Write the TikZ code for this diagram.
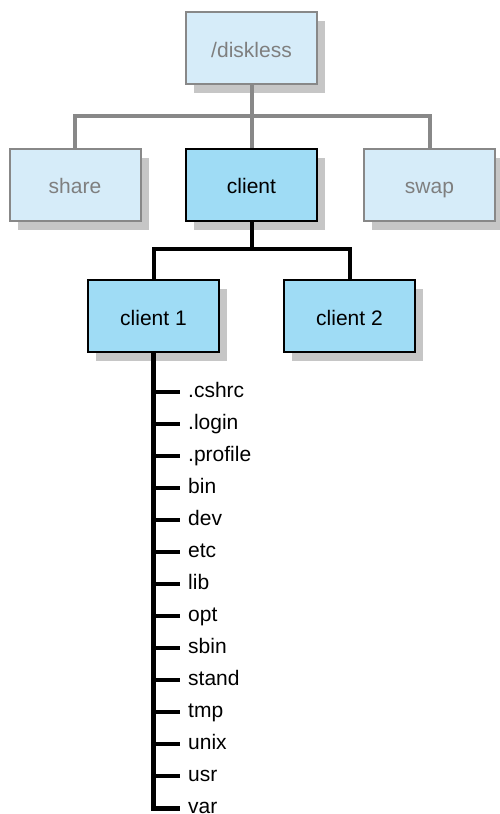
\documentclass[tikz,border=0pt]{standalone}
\usepackage{fontspec}
\setmainfont{Liberation Sans}
\usepackage{tikz}
\usetikzlibrary{positioning,shadows}
\definecolor{palebox}{HTML}{D6ECF9}
\definecolor{clientbox}{HTML}{9FDCF5}
\definecolor{rimgray}{HTML}{888888}
\definecolor{textgray}{HTML}{7F7F7F}
\definecolor{shadegray}{HTML}{C6C6C6}
\tikzset{
  dirbox/.style={rectangle, minimum width=131pt, minimum height=72pt, inner sep=0pt,
    line width=2pt, font=\fontsize{21}{24}\selectfont, text height=18pt, text depth=0pt,
    drop shadow={shadow xshift=8pt, shadow yshift=-9pt, opacity=1, fill=shadegray}},
  dimbox/.style={dirbox, draw=rimgray, fill=palebox, text=textgray},
  livebox/.style={dirbox, draw=black, fill=clientbox, text=black},
  fileitem/.style={anchor=west, inner sep=0pt, text height=15pt, text depth=4pt,
    font=\fontsize{21}{24}\selectfont}
}

\begin{document}
\begin{tikzpicture}[x=1pt, y=-1pt]
\useasboundingbox (0,0) rectangle (500,814);
% top level
\node[dimbox] (disk) at (251.5,48) {/diskless};
\node[dimbox] (share) at (75,184.5) {share};
\node[livebox] (cli) at (251.5,184.5) {client};
\node[dimbox] (swap) at (429.5,184.5) {swap};
\node[livebox] (c1) at (153.5,316) {client 1};
\node[livebox] (c2) at (349.5,316) {client 2};
\coordinate (j1) at (251.5,116);
\coordinate (j2) at (251.5,249);
% files under client 1
\node[fileitem] (f1) at (188,392) {.cshrc};
\node[fileitem] (f2) at (188,424) {.login};
\node[fileitem] (f3) at (188,456) {.profile};
\node[fileitem] (f4) at (188,488) {bin};
\node[fileitem] (f5) at (188,520) {dev};
\node[fileitem] (f6) at (188,552) {etc};
\node[fileitem] (f7) at (188,584) {lib};
\node[fileitem] (f8) at (188,616) {opt};
\node[fileitem] (f9) at (188,648) {sbin};
\node[fileitem] (f10) at (188,680) {stand};
\node[fileitem] (f11) at (188,712) {tmp};
\node[fileitem] (f12) at (188,744) {unix};
\node[fileitem] (f13) at (188,776) {usr};
\node[fileitem] (f14) at (188,808) {var};
% gray links
\draw[rimgray, line width=4pt] (disk.south) -- (j1);
\draw[rimgray, line width=4pt] (share.north) |- (j1) -| (swap.north);
\draw[rimgray, line width=4pt] (j1) -- (cli.north);
% black links
\draw[line width=4pt] (cli.south) -- (j2);
\draw[line width=4pt] (c1.north) |- (j2) -| (c2.north);
\draw[line width=5pt] (c1.south) |- ([xshift=-8pt]f14.west);
\foreach \f in {f1,f2,f3,f4,f5,f6,f7,f8,f9,f10,f11,f12,f13}
  \draw[line width=4pt] (\f.west -| c1.south) -- ([xshift=-8pt]\f.west);
\end{tikzpicture}
\end{document}
